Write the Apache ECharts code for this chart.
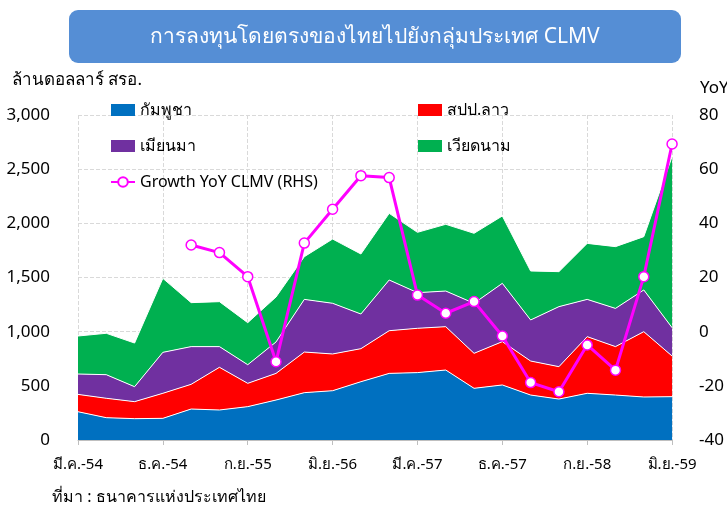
<!DOCTYPE html>
<html>
<head>
<meta charset="utf-8">
<script src="https://cdn.jsdelivr.net/npm/echarts@6/dist/echarts.min.js"></script>
<style>
  html, body { margin: 0; padding: 0; background: #fff; }
  #chart { width: 727px; height: 511px; }
</style>
</head>
<body>
<div id="chart"></div>
<script>
// ไตรมาส มี.ค.-54 ถึง มิ.ย.-59
const quarters = [
  'มี.ค.-54', 'มิ.ย.-54', 'ก.ย.-54', 'ธ.ค.-54',
  'มี.ค.-55', 'มิ.ย.-55', 'ก.ย.-55', 'ธ.ค.-55',
  'มี.ค.-56', 'มิ.ย.-56', 'ก.ย.-56', 'ธ.ค.-56',
  'มี.ค.-57', 'มิ.ย.-57', 'ก.ย.-57', 'ธ.ค.-57',
  'มี.ค.-58', 'มิ.ย.-58', 'ก.ย.-58', 'ธ.ค.-58',
  'มี.ค.-59', 'มิ.ย.-59'
]
// ล้านดอลลาร์ สรอ. (stacked)
const cambodia = [261, 206, 197, 200, 286, 277, 308, 369, 437, 455, 538, 615, 622, 646, 477, 508, 415, 378, 431, 415, 397, 400]
const laos     = [160, 179, 157, 231, 228, 394, 215, 246, 375, 339, 305, 394, 409, 400, 323, 400, 314, 299, 523, 447, 603, 375]
const myanmar  = [188, 218, 138, 378, 348, 191, 172, 290, 486, 468, 320, 468, 329, 329, 462, 538, 379, 554, 344, 353, 385, 262]
const vietnam  = [351, 382, 403, 683, 406, 415, 388, 415, 394, 593, 554, 615, 557, 616, 646, 622, 452, 323, 517, 570, 492, 1578]
// Growth YoY CLMV (RHS), %
const growth = [null, null, null, null, 32.0, 29.2, 20.3, -11.1, 32.7, 45.2, 57.6, 56.9, 13.5, 6.8, 11.1, -1.6, -18.8, -22.2, -4.9, -14.2, 20.3, 69.3]

const FONT = 'Tahoma, "Noto Sans", sans-serif'

const chart = echarts.init(document.getElementById('chart'))

function areaSeries(name, data, color) {
  return {
    name: name,
    type: 'line',
    stack: 'clmv',
    data: data,
    symbol: 'none',
    lineStyle: { color: '#fff', width: 1 },
    itemStyle: { color: color },
    areaStyle: { color: color, opacity: 1 },
    emphasis: { disabled: true }
  }
}

const legendText = { fontSize: 16, color: '#000', lineHeight: 16 }

const option = {
  animation: false,
  textStyle: { fontFamily: FONT },
  grid: { left: 78, right: 52, top: 115, bottom: 71 },
  graphic: [
    {
      type: 'rect',
      shape: { x: 69, y: 10, width: 612, height: 53, r: 9 },
      style: { fill: '#558ED5' }
    },
    {
      type: 'text',
      x: 375, y: 37,
      style: {
        text: 'การลงทุนโดยตรงของไทยไปยังกลุ่มประเทศ CLMV',
        fill: '#fff', font: '21px ' + FONT,
        textAlign: 'center', textVerticalAlign: 'middle'
      }
    },
    {
      type: 'text',
      x: 12, y: 80,
      style: {
        text: 'ล้านดอลลาร์ สรอ.',
        fill: '#000', font: '17px ' + FONT,
        textVerticalAlign: 'middle'
      }
    },
    {
      type: 'text',
      x: 700, y: 88,
      style: {
        text: 'YoY',
        fill: '#000', font: '17px ' + FONT,
        textVerticalAlign: 'middle'
      }
    },
    {
      type: 'text',
      x: 52, y: 497,
      style: {
        text: 'ที่มา : ธนาคารแห่งประเทศไทย',
        fill: '#000', font: '16px ' + FONT,
        textVerticalAlign: 'middle'
      }
    }
  ],
  legend: [
    {
      left: 110, top: 102, orient: 'vertical', padding: 0,
      itemWidth: 24, itemHeight: 12, itemGap: 20,
      textStyle: legendText,
      data: [
        { name: 'กัมพูชา', icon: 'rect' },
        { name: 'เมียนมา', icon: 'rect' },
        'Growth YoY CLMV (RHS)'
      ]
    },
    {
      left: 418, top: 102, orient: 'vertical', padding: 0,
      itemWidth: 24, itemHeight: 12, itemGap: 20,
      textStyle: legendText,
      data: [
        { name: 'สปป.ลาว', icon: 'rect' },
        { name: 'เวียดนาม', icon: 'rect' }
      ]
    }
  ],
  xAxis: {
    type: 'category',
    boundaryGap: false,
    data: quarters,
    axisLine: { lineStyle: { color: '#bfbfbf' } },
    axisTick: { interval: 2, length: 5, lineStyle: { color: '#bfbfbf' } },
    axisLabel: { interval: 2, color: '#000', fontSize: 15, margin: 17 },
    splitLine: { show: true, interval: 2, lineStyle: { color: '#d9d9d9', type: 'dashed' } }
  },
  yAxis: [
    {
      type: 'value', min: 0, max: 3000, interval: 500,
      axisLine: { show: false },
      axisTick: { show: false },
      axisLabel: {
        color: '#000', fontSize: 17, margin: 28,
        formatter: v => v.toLocaleString('en-US')
      },
      splitLine: { lineStyle: { color: '#d9d9d9', type: 'dashed' } }
    },
    {
      type: 'value', min: -40, max: 80, interval: 20,
      position: 'right',
      axisLine: { show: false },
      axisTick: { show: false },
      axisLabel: { color: '#000', fontSize: 17, margin: 27 },
      splitLine: { show: false }
    }
  ],
  series: [
    areaSeries('กัมพูชา', cambodia, '#0070C0'),
    areaSeries('สปป.ลาว', laos, '#FF0000'),
    areaSeries('เมียนมา', myanmar, '#7030A0'),
    areaSeries('เวียดนาม', vietnam, '#00B050'),
    {
      name: 'Growth YoY CLMV (RHS)',
      type: 'line',
      yAxisIndex: 1,
      data: growth,
      symbol: 'circle',
      symbolSize: 10,
      lineStyle: { color: '#FF00FF', width: 3 },
      itemStyle: { color: '#fff', borderColor: '#FF00FF', borderWidth: 1.5 },
      z: 5
    }
  ]
}

chart.setOption(option)
</script>
</body>
</html>
